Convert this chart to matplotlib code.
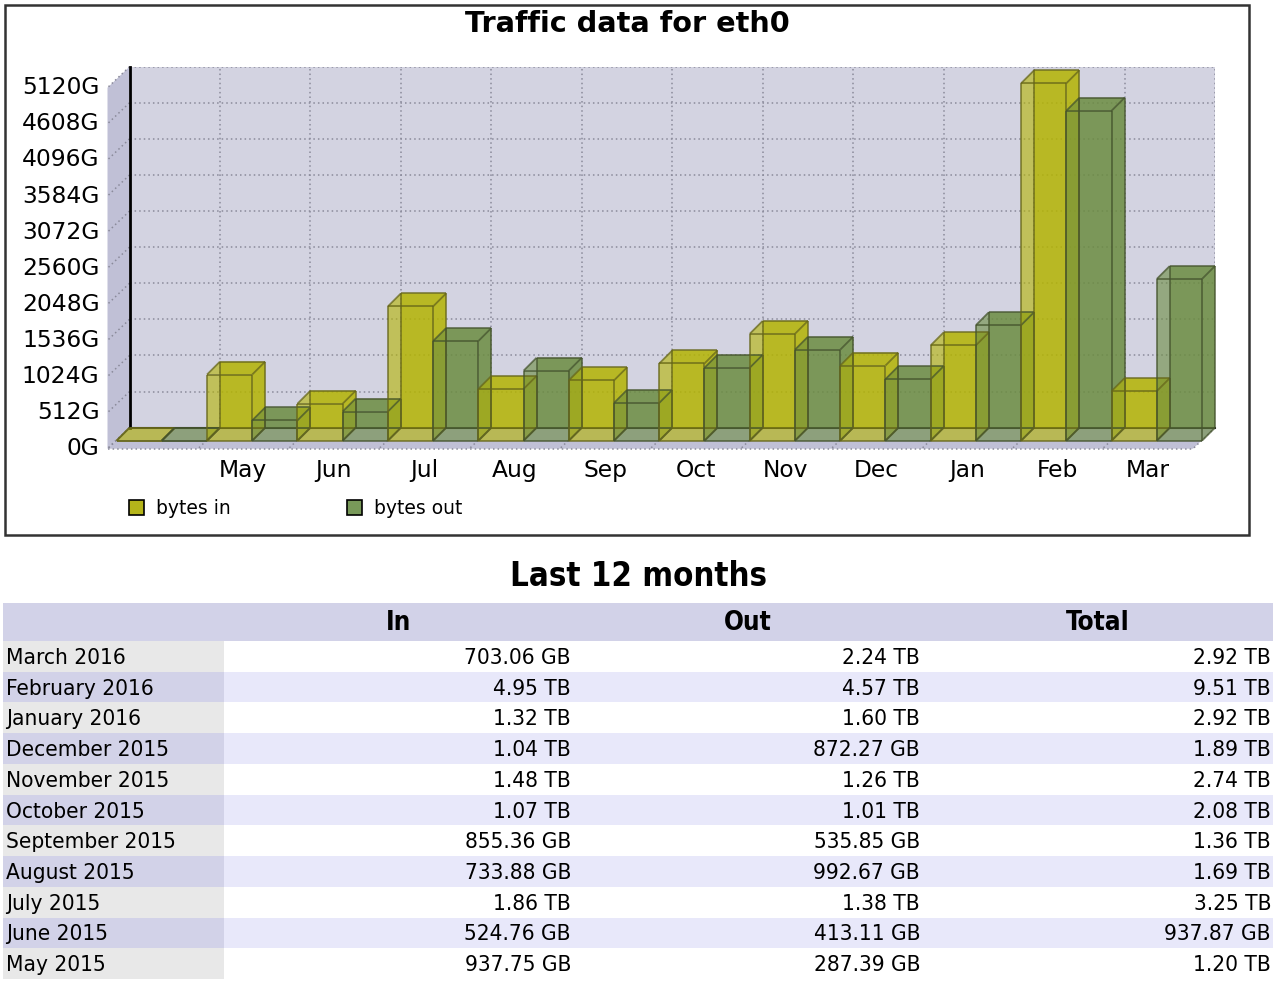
import matplotlib
matplotlib.use('Agg')
import matplotlib.pyplot as plt
from matplotlib.patches import Rectangle, Polygon, Patch
from matplotlib.collections import LineCollection

# ---------------- data ----------------
months = ['', 'May', 'Jun', 'Jul', 'Aug', 'Sep', 'Oct', 'Nov', 'Dec', 'Jan', 'Feb', 'Mar']
bytes_in = [0, 937.75, 524.76, 1904.64, 733.88, 855.36, 1095.68, 1515.52, 1064.96, 1351.68, 5068.8, 703.06]
bytes_out = [0, 287.39, 413.11, 1413.12, 992.67, 535.85, 1034.24, 1290.24, 872.27, 1638.4, 4679.68, 2293.76]
y_ticks = [0, 512, 1024, 1536, 2048, 2560, 3072, 3584, 4096, 4608, 5120]
y_tick_labels = ['0G', '512G', '1024G', '1536G', '2048G', '2560G', '3072G', '3584G', '4096G', '4608G', '5120G']
series_names = ['bytes in', 'bytes out']

table_months = ['March 2016', 'February 2016', 'January 2016', 'December 2015', 'November 2015',
                'October 2015', 'September 2015', 'August 2015', 'July 2015', 'June 2015', 'May 2015']
table_in = ['703.06 GB', '4.95 TB', '1.32 TB', '1.04 TB', '1.48 TB', '1.07 TB', '855.36 GB',
            '733.88 GB', '1.86 TB', '524.76 GB', '937.75 GB']
table_out = ['2.24 TB', '4.57 TB', '1.60 TB', '872.27 GB', '1.26 TB', '1.01 TB', '535.85 GB',
             '992.67 GB', '1.38 TB', '413.11 GB', '287.39 GB']
table_total = ['2.92 TB', '9.51 TB', '2.92 TB', '1.89 TB', '2.74 TB', '2.08 TB', '1.36 TB',
               '1.69 TB', '3.25 TB', '937.87 GB', '1.20 TB']
col_headers = ['In', 'Out', 'Total']

# ---------------- styles ----------------
IN_FACE = (0.705, 0.705, 0.0)
OUT_FACE = (0.42, 0.55, 0.25)
IN_EDGE = (0.40, 0.40, 0.10)
OUT_EDGE = (0.27, 0.33, 0.18)
FACE_ALPHA = 0.6
WALL = '#d3d3e1'
SIDE = '#c0c0d6'
GRID = '#8a8a9a'

W, H = 1280, 981
fig = plt.figure(figsize=(W / 100, H / 100), dpi=100)
fig.patch.set_facecolor('white')


def fx(px):
    return px / W


def fy(py):
    return 1 - py / H


# chart frame
fig.add_artist(Rectangle((fx(5), fy(535)), fx(1249) - fx(5), fy(5) - fy(535),
                         transform=fig.transFigure, fill=False, ec='#333333', lw=1.8))
fig.text(fx(627), fy(24), 'Traffic data for eth0', ha='center', va='center',
         fontsize=20.7, fontweight='bold')

# back wall axes
X0, X1, YB, YT = 129.5, 1215, 427.7, 66.7
ax = fig.add_axes([fx(X0), fy(YB), fx(X1) - fx(X0), fy(YT) - fy(YB)])
n = len(months)
ax.set_xlim(0, n)
ax.set_ylim(0, y_ticks[-1])
ax.set_facecolor(WALL)
ax.set_axisbelow(True)
ax.set_xticks(range(n + 1))
ax.set_yticks(y_ticks)
ax.grid(True, ls=(0, (1, 2)), color=GRID, lw=1.1)
ax.tick_params(length=0, labelbottom=False, labelleft=False)
for s in ['top', 'right']:
    ax.spines[s].set_visible(False)
ax.spines['left'].set_linewidth(2)
ax.spines['left'].set_color('black')
ax.spines['bottom'].set_linewidth(1.5)
ax.spines['bottom'].set_color('#222222')

# pixel scale of data units
p0 = ax.transData.transform((0, 0))
p1 = ax.transData.transform((1, 1))
ppx = p1[0] - p0[0]
ppy = p1[1] - p0[1]
DX, DY = 13 / ppx, 13 / ppy      # bar depth
WDX, WDY = 22 / ppx, 21 / ppy    # wall/floor depth
ymax = y_ticks[-1]

# floor and left wall
ax.add_patch(Polygon([(0, 0), (n, 0), (n - WDX, -WDY), (-WDX, -WDY)], closed=True,
                     fc=SIDE, ec='none', clip_on=False, zorder=0.3))
ax.add_patch(Polygon([(0, 0), (0, ymax), (-WDX, ymax - WDY), (-WDX, -WDY)], closed=True,
                     fc=SIDE, ec='none', clip_on=False, zorder=0.3))
for v in y_ticks:
    ax.plot([0, -WDX], [v, v - WDY], ls=(0, (1, 2)), color=GRID, lw=1.1, clip_on=False, zorder=0.6)
for k in range(n + 1):
    ax.plot([k, k - WDX], [0, -WDY], ls=(0, (1, 2)), color=GRID, lw=1.1, clip_on=False, zorder=0.6)
ax.plot([-WDX, n - WDX], [-WDY, -WDY], ls=(0, (1, 2)), color=GRID, lw=1.1, clip_on=False, zorder=0.6)


def draw_bar(x0, w, h, face, edge):
    back = [(x0, 0), (x0 + w, 0), (x0 + w, h), (x0, h)]
    front = [(x - DX, y - DY) for x, y in back]
    top = [front[3], front[2], back[2], back[3]]
    right = [front[1], back[1], back[2], front[2]]
    faces = [back, right, top, front] if h > 0 else [top]
    for f in faces:
        ax.add_patch(Polygon(f, closed=True, fc=face, alpha=FACE_ALPHA, ec='none',
                             clip_on=False, zorder=3))
    segs = []
    for q in (back, front):
        for i in range(4):
            segs.append([q[i], q[(i + 1) % 4]])
    for i in range(4):
        segs.append([back[i], front[i]])
    ax.add_collection(LineCollection(segs, colors=[edge], linewidths=1.3, alpha=0.75,
                                     clip_on=False, zorder=3.1))


for i in range(n):
    draw_bar(i, 0.5, bytes_in[i], IN_FACE, IN_EDGE)
    draw_bar(i + 0.5, 0.5, bytes_out[i], OUT_FACE, OUT_EDGE)

# axis labels (on the front plane)
for v, lab in zip(y_ticks, y_tick_labels):
    ax.text(-WDX - 8 / ppx, v - WDY, lab, ha='right', va='center', fontsize=16.8, clip_on=False)
for i, lab in enumerate(months):
    ax.text(i + 0.5 - WDX, -WDY - 22 / ppy, lab, ha='center', va='center', fontsize=16.8,
            clip_on=False)

# legend
handles = [Patch(fc=(0.71, 0.71, 0.1), ec='black', lw=1.2),
           Patch(fc=(0.47, 0.6, 0.35), ec='black', lw=1.2)]
fig.legend(handles, series_names, loc='upper left', bbox_to_anchor=(fx(129), fy(499)),
           ncol=2, frameon=False, fontsize=13.5, handlelength=0.8, handleheight=0.8,
           handletextpad=0.65, columnspacing=6.2, borderpad=0, borderaxespad=0)

# ---------------- table ----------------
TF = dict(family='DejaVu Sans', stretch='condensed')
fig.text(fx(638), fy(577), 'Last 12 months', ha='center', va='center', fontsize=23.7,
         fontweight='bold', **TF)

tax = fig.add_axes([fx(3), fy(979), fx(1273) - fx(3), fy(603) - fy(979)])
tax.set_xlim(0, 1270)
tax.set_ylim(376, 0)
tax.axis('off')
col_edges = [0, 221, 570, 919, 1270]
hdr_h = 38
row_h = (376 - hdr_h) / len(table_months)

tax.add_patch(Rectangle((0, 0), col_edges[-1], hdr_h, fc='#d2d2e8', ec='none'))
for j, lab in enumerate(col_headers):
    tax.text((col_edges[j + 1] + col_edges[j + 2]) / 2, hdr_h / 2 + 1, lab, ha='center',
             va='center', fontsize=18.8, fontweight='bold', **TF)

for r, (m, vi, vo, vt) in enumerate(zip(table_months, table_in, table_out, table_total)):
    y0 = hdr_h + r * row_h
    first_bg = '#e8e8e8' if r % 2 == 0 else '#d2d2e8'
    data_bg = '#ffffff' if r % 2 == 0 else '#e8e8fa'
    tax.add_patch(Rectangle((col_edges[0], y0), col_edges[1] - col_edges[0], row_h,
                            fc=first_bg, ec='none'))
    tax.add_patch(Rectangle((col_edges[1], y0), col_edges[-1] - col_edges[1], row_h,
                            fc=data_bg, ec='none'))
    yc = y0 + row_h / 2 + 1.5
    tax.text(col_edges[0] + 3, yc, m, ha='left', va='center', fontsize=16.2, **TF)
    for j, val in enumerate((vi, vo, vt)):
        tax.text(col_edges[j + 2] - 2, yc, val, ha='right', va='center', fontsize=16.2, **TF)

fig.savefig('out.png', dpi=100)
